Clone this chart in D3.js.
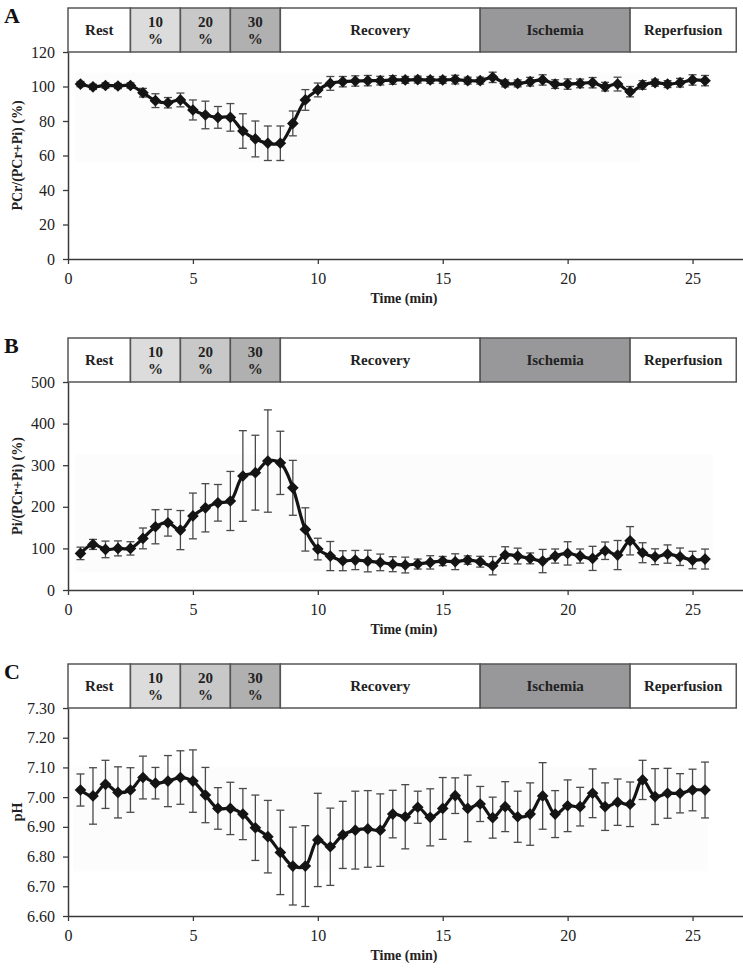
<!DOCTYPE html>
<html><head><meta charset="utf-8">
<script src="https://cdn.jsdelivr.net/npm/d3@7/dist/d3.min.js"></script>
<style>
html,body{margin:0;padding:0;background:#fff;}
svg{display:block;font-family:"Liberation Serif","Times New Roman",serif;}
</style></head><body>
<svg id="chart" width="743" height="968"></svg>
<script>
// ---------- data ----------
const times = [0.5,1,1.5,2,2.5,3,3.5,4,4.5,5,5.5,6,6.5,7,7.5,8,8.5,9,9.5,10,10.5,11,11.5,12,12.5,13,13.5,14,14.5,15,15.5,16,16.5,17,17.5,18,18.5,19,19.5,20,20.5,21,21.5,22,22.5,23,23.5,24,24.5,25,25.5];

const pcrMean = [101.4,99.8,100.6,100.3,100.6,96.4,91.8,90.6,92.2,86.4,83.5,82.1,82.1,74.2,69.6,67.1,67.1,78.6,92.2,98,101.8,102.8,103.2,103.4,103.4,103.8,103.8,104,103.8,103.8,104,103.4,103.4,105.3,101.8,101.8,102.8,103.8,101.4,101.4,101.8,102.2,99.9,101.4,97,100.9,102.2,101.4,102.2,103.8,103.4];
const pcrErr = [1.5,1.5,1.5,1.5,1.5,2.5,4,3,4,5.8,8,6.3,8,10,10.4,10,10,7.2,6,4,4,3,3,3,2.5,2.5,2,2,2,2,2.5,2,2,3,2,2,2.5,3,2.5,3,2.5,3,2.5,4,3,2.5,2,2,2.5,3,3];

const piMean = [88,109.6,97.6,100,100,124,152,161.6,144,178,197.6,209.6,214,274,282,310,305.6,245.6,145.6,98.4,81.6,70.4,72,69.6,66.4,62,60,62.4,66.4,69.6,68,72,68,58.4,84,81.6,76,69.6,81.6,88,81.6,76,94.4,84,118.4,89.6,80,86.4,80,72,74.4];
const piErr = [15,12,20,18,16,25,41,32,47,55,58,44,71,109,90,123,76,66,52,26,35,24,23,26,20,18,19,12,16,11,19,10,13,22,20,19,13,28,17,28,17,29,21,35,34,24,19,22,21,21,24];

const phMean = [7.024,7.004,7.043,7.016,7.024,7.066,7.047,7.054,7.066,7.054,7.007,6.962,6.962,6.943,6.897,6.867,6.814,6.768,6.768,6.856,6.833,6.873,6.889,6.893,6.889,6.943,6.934,6.966,6.932,6.962,7.005,6.962,6.977,6.931,6.968,6.934,6.943,7.004,6.943,6.971,6.968,7.013,6.968,6.983,6.976,7.058,7.002,7.013,7.013,7.024,7.024];
const phErr = [0.054,0.095,0.081,0.086,0.075,0.072,0.053,0.086,0.09,0.105,0.093,0.07,0.088,0.086,0.11,0.122,0.142,0.131,0.136,0.157,0.13,0.113,0.131,0.129,0.122,0.08,0.108,0.054,0.096,0.104,0.06,0.112,0.059,0.069,0.084,0.086,0.105,0.112,0.079,0.087,0.065,0.082,0.08,0.078,0.075,0.066,0.094,0.084,0.066,0.07,0.094];

const phaseNames  = ["Rest","10|%","20|%","30|%","Recovery","Ischemia","Reperfusion"];
const phaseStart  = [0,2.5,4.5,6.5,8.5,16.5,22.5];
const phaseEnd    = [2.5,4.5,6.5,8.5,16.5,22.5,26.75];
const phaseColors = ["#ffffff","#dcdcdc","#c8c8c8","#b0b0b1","#ffffff","#98989b","#ffffff"];

const xTicks = [0,5,10,15,20,25];
const pcrTicks = [0,20,40,60,80,100,120];
const piTicks = [0,100,200,300,400,500];
const phTicks = [6.6,6.7,6.8,6.9,7.0,7.1,7.2,7.3];

const panels = [
  {letter:"A", ylabel:"PCr/(PCr+Pi) (%)", mean:pcrMean, err:pcrErr, ydom:[0,120], ticks:pcrTicks, fmt:d3.format("d"),
   top:52, bottom:259, shade:[0.3,22.9,56,108]},
  {letter:"B", ylabel:"Pi/(PCr+Pi) (%)", mean:piMean, err:piErr, ydom:[0,500], ticks:piTicks, fmt:d3.format("d"),
   top:382, bottom:590, shade:[0.3,25.8,43,326]},
  {letter:"C", ylabel:"pH", mean:phMean, err:phErr, ydom:[6.6,7.3], ticks:phTicks, fmt:d3.format(".2f"),
   top:708, bottom:916, shade:[0.2,25.6,6.75,7.1]}
];

// ---------- drawing ----------
const svg = d3.select("#chart");
svg.append("rect").attr("width",743).attr("height",968).attr("fill","#fff");
const x = d3.scaleLinear().domain([0,27]).range([68,742.5]);
const headerH = 44;
const axisColor = "#3a3a3a";
const textColor = "#222";

panels.forEach(p => {
  const g = svg.append("g");
  const y = d3.scaleLinear().domain(p.ydom).range([p.bottom, p.top]);

  // faint background area
  g.append("rect")
    .attr("x", x(p.shade[0])).attr("width", x(p.shade[1]) - x(p.shade[0]))
    .attr("y", y(p.shade[3])).attr("height", y(p.shade[2]) - y(p.shade[3]))
    .attr("fill", "#fcfcfc");

  // header phase bar
  const hTop = p.top - headerH;
  const hg = g.append("g");
  phaseNames.forEach((name, i) => {
    const x0 = x(phaseStart[i]), x1 = x(phaseEnd[i]);
    hg.append("rect").attr("x", x0).attr("y", hTop).attr("width", x1 - x0).attr("height", headerH)
      .attr("fill", phaseColors[i]).attr("stroke", "#555").attr("stroke-width", 1.5);
    const cx = (x0 + x1) / 2, cy = hTop + headerH / 2;
    const parts = name.split("|");
    if (parts.length === 1) {
      hg.append("text").attr("x", cx).attr("y", cy + 5).attr("text-anchor", "middle")
        .attr("font-size", 15).attr("font-weight", "bold").attr("fill", textColor).text(name);
    } else {
      hg.append("text").attr("x", cx).attr("y", cy - 3).attr("text-anchor", "middle")
        .attr("font-size", 15).attr("font-weight", "bold").attr("fill", textColor).text(parts[0]);
      hg.append("text").attr("x", cx).attr("y", cy + 14).attr("text-anchor", "middle")
        .attr("font-size", 15).attr("font-weight", "bold").attr("fill", textColor).text(parts[1]);
    }
  });

  // panel letter
  g.append("text").attr("x", 4).attr("y", hTop + 15).attr("font-size", 22).attr("font-weight", "bold")
    .attr("fill", "#111").text(p.letter);

  // axes
  const xAxis = g.append("g").attr("transform", `translate(0,${p.bottom})`)
    .call(d3.axisBottom(x).tickValues(xTicks).tickSize(5).tickPadding(9).tickSizeOuter(0).tickFormat(d3.format("d")));
  const yAxis = g.append("g").attr("transform", `translate(${x(0)},0)`)
    .call(d3.axisLeft(y).tickValues(p.ticks).tickSize(5).tickPadding(8).tickSizeOuter(0).tickFormat(p.fmt));
  [xAxis, yAxis].forEach(a => {
    a.select(".domain").attr("stroke", axisColor).attr("stroke-width", 1.5);
    a.selectAll(".tick line").attr("stroke", axisColor).attr("stroke-width", 1.3);
    a.selectAll(".tick text").attr("font-family", '"Liberation Serif",serif').attr("font-size", 16).attr("fill", textColor);
  });

  // axis titles
  g.append("text").attr("x", 404).attr("y", p.bottom + 44).attr("text-anchor", "middle")
    .attr("font-size", 14).attr("font-weight", "bold").attr("fill", textColor).text("Time (min)");
  g.append("text").attr("transform", `translate(22,${(p.top + p.bottom) / 2}) rotate(-90)`)
    .attr("text-anchor", "middle").attr("font-size", 14).attr("font-weight", "bold").attr("fill", textColor)
    .text(p.ylabel);

  const data = times.map((t, i) => ({t, m: p.mean[i], e: p.err[i]}));

  // error bars
  const eb = g.append("g").attr("stroke", "#4a4a4a").attr("stroke-width", 1.3);
  data.forEach(d => {
    const cx = x(d.t), y0 = y(d.m - d.e), y1 = y(d.m + d.e);
    eb.append("line").attr("x1", cx).attr("x2", cx).attr("y1", y0).attr("y2", y1);
    eb.append("line").attr("x1", cx - 4).attr("x2", cx + 4).attr("y1", y0).attr("y2", y0);
    eb.append("line").attr("x1", cx - 4).attr("x2", cx + 4).attr("y1", y1).attr("y2", y1);
  });

  // line
  const line = d3.line().x(d => x(d.t)).y(d => y(d.m)).curve(d3.curveCatmullRom.alpha(0.5));
  g.append("path").datum(data).attr("d", line).attr("fill", "none")
    .attr("stroke", "#141414").attr("stroke-width", 3.2).attr("stroke-linejoin", "round");

  // diamond markers
  const sym = d3.symbol().type(d3.symbolSquare).size(68);
  g.append("g").selectAll("path").data(data).join("path")
    .attr("d", sym)
    .attr("transform", d => `translate(${x(d.t)},${y(d.m)}) rotate(45)`)
    .attr("fill", "#141414");
});
</script>
</body></html>
